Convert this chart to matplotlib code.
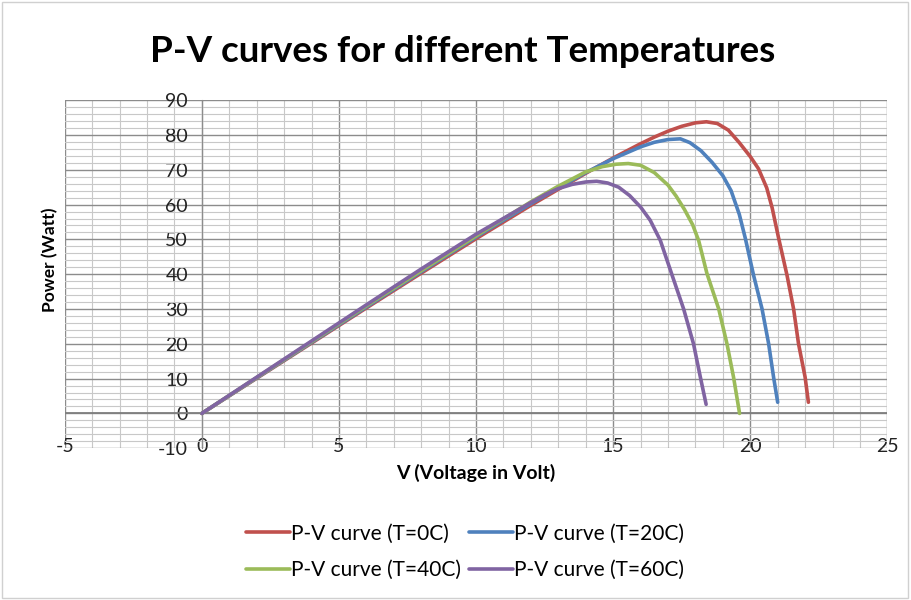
import numpy as np
import matplotlib
matplotlib.use('Agg')
import matplotlib.pyplot as plt
from matplotlib.patches import Rectangle
from matplotlib.ticker import MultipleLocator

plt.rcParams['font.family'] = ['Lato', 'DejaVu Sans']
plt.rcParams['axes.unicode_minus'] = False

# series
v_t0 = [0, 2, 4, 6, 8, 10, 12, 13, 14, 15, 16, 16.5, 17, 17.5, 18, 18.4, 18.8, 19.2, 19.6, 20, 20.3, 20.6,
        20.8, 21.03, 21.34, 21.58, 21.76, 22.0, 22.12]
p_t0 = [0, 10.1, 20.2, 30.3, 40.3, 50.2, 59.8, 64.4, 69, 73.4, 77.5, 79.4, 81.1, 82.5, 83.5, 83.8, 83.3, 81.4,
        77.8, 73.8, 70.3, 64.8, 59, 50.5, 39.7, 30, 20, 10.4, 3.2]

v_t20 = [0, 2, 4, 6, 8, 10, 12, 13, 14, 15, 16, 16.5, 17, 17.45, 17.8, 18.2, 18.6, 19, 19.3, 19.6, 19.82,
         20.12, 20.43, 20.67, 20.85, 21.0]
p_t20 = [0, 10.2, 20.4, 30.6, 40.7, 50.7, 60.3, 64.8, 69.2, 73.2, 76.6, 77.9, 78.7, 78.9, 77.8, 75.5, 72.2,
         68.3, 64, 57.2, 50.3, 39.7, 30, 20, 10.4, 3.2]

v_t40 = [0, 2, 4, 6, 8, 10, 12, 13, 14, 14.6, 15.1, 15.55, 16, 16.5, 17, 17.3, 17.6, 17.9, 18.12, 18.42,
         18.85, 19.15, 19.39, 19.61]
p_t40 = [0, 10.3, 20.6, 30.9, 41, 51, 60.8, 65.3, 69.4, 70.9, 71.6, 71.8, 71.3, 69.2, 65.6, 62.4, 58.6, 54.2,
         49.6, 40.2, 30, 20, 10.4, 0]

v_t60 = [0, 2, 4, 6, 8, 10, 12, 12.6, 13, 13.5, 14, 14.4, 14.8, 15.2, 15.6, 16, 16.35, 16.72, 17.15, 17.57,
         17.93, 18.18, 18.39]
p_t60 = [0, 10.4, 20.8, 31.2, 41.5, 51.5, 60.6, 63.2, 64.6, 65.8, 66.5, 66.7, 66.2, 65, 62.6, 59.3, 55.5,
         49.7, 39.7, 30, 20, 10.4, 2.6]

labels = ['P-V curve (T=0C)', 'P-V curve (T=20C)', 'P-V curve (T=40C)', 'P-V curve (T=60C)']
colors = ['#C0504D', '#4F81BD', '#9BBB59', '#8064A2']

fig = plt.figure(figsize=(9.12, 6.0), dpi=100)
ax = fig.add_axes([0.071, 0.253, 0.902, 0.58])

series = [(v_t0, p_t0), (v_t20, p_t20), (v_t40, p_t40), (v_t60, p_t60)]
lines = []
for (v, p), lab, c in zip(series, labels, colors):
    ln, = ax.plot(v, p, color=c, lw=2.6, label=lab, solid_capstyle='round',
                  solid_joinstyle='round', zorder=3)
    lines.append(ln)

ax.set_xlim(-5, 25)
ax.set_ylim(-10, 90)
ax.xaxis.set_major_locator(MultipleLocator(5))
ax.xaxis.set_minor_locator(MultipleLocator(1))
ax.yaxis.set_major_locator(MultipleLocator(10))
ax.yaxis.set_minor_locator(MultipleLocator(2))
ax.grid(which='major', color='#8c8c8c', lw=1.0, zorder=0)
ax.grid(which='minor', color='#c8c8c8', lw=0.8, zorder=0)
ax.set_axisbelow(True)

for s in ['top', 'bottom', 'right']:
    ax.spines[s].set_visible(False)
ax.spines['left'].set_position(('data', 0))
ax.spines['left'].set_color('#8c8c8c')
ax.axhline(0, color='#7f7f7f', lw=1.3, zorder=1)

ax.tick_params(which='both', length=0, labelsize=14, colors='#222222')
ax.tick_params(axis='x', pad=-7)
ax.tick_params(axis='y', pad=10)
ax.set_yticks(np.arange(-10, 91, 10))

ax.set_xlabel('V (Voltage in Volt)', fontsize=14, fontweight='bold', labelpad=6)
fig.text(0.055, 0.567, 'Power (Watt)', rotation=90, fontsize=12.5, fontweight='bold',
         ha='center', va='center')
fig.text(0.507, 0.915, 'P-V curves for different Temperatures', fontsize=26.5,
         fontweight='bold', ha='center', va='center')

# column-major fill in matplotlib: reorder so rows read 0C,20C / 40C,60C
order = [0, 2, 1, 3]
fig.legend(handles=[lines[i] for i in order], loc='center', bbox_to_anchor=(0.51, 0.08), ncol=2,
           frameon=False, fontsize=15, handlelength=2.1, handletextpad=0.05,
           columnspacing=0.4, labelspacing=0.8)

fig.patches.append(Rectangle((0.002, 0.003), 0.994, 0.993, transform=fig.transFigure,
                             fill=False, edgecolor='#d0d0d0', lw=1.0))

fig.savefig('out.png', dpi=100)
